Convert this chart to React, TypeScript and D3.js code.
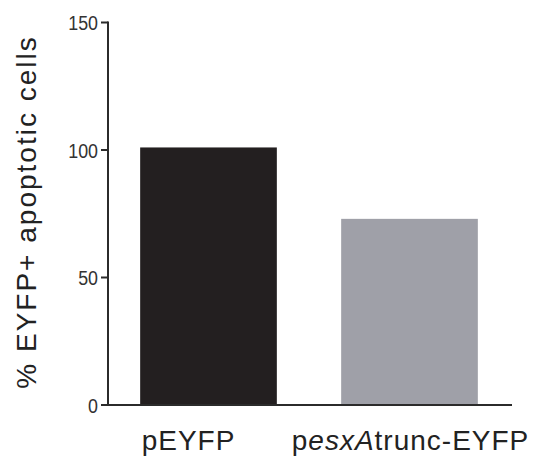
import React from 'react';
import * as d3 from 'd3';

const categories = ['pEYFP', 'pesxAtrunc-EYFP'];
const values = [101, 73];
const yTicks = [0, 50, 100, 150];
const barColors = ['#231f20', '#9fa0a8'];

const W = 543;
const H = 462;
const left = 108;
const bottom = 405;
const top = 22.5;

const App = () => {
  const x = d3.scaleBand<string>()
    .domain(categories)
    .range([left, 510])
    .paddingInner(0.32)
    .paddingOuter(0.16);
  const y = d3.scaleLinear().domain([0, 150]).range([bottom, top]);

  // label nudges so the text sits where the original did
  const labelDx = [-20, 1];

  return (
    <svg width={W} height={H} style={{ position: 'absolute', left: 0, top: 0, background: '#fff' }}>
      {categories.map((c, i) => (
        <rect key={c} x={x(c)} y={y(values[i])} width={x.bandwidth()}
          height={bottom - y(values[i])} fill={barColors[i]} />
      ))}

      {/* axes */}
      <line x1={left} x2={left} y1={top - 1} y2={bottom + 1} stroke="#2b2b2b" strokeWidth={2} />
      <line x1={left - 1} x2={512} y1={bottom} y2={bottom} stroke="#2b2b2b" strokeWidth={2} />
      {yTicks.map(t => (
        <g key={t}>
          <line x1={left - 7} x2={left} y1={y(t)} y2={y(t)} stroke="#2b2b2b" strokeWidth={2} />
          <text transform={`translate(${left - 10},${y(t)}) scale(0.85,1)`} dy="0.36em"
            textAnchor="end" fontFamily="Liberation Sans, Arial, sans-serif" fontSize={21}
            fill="#333">{t}</text>
        </g>
      ))}

      {/* category labels */}
      {categories.map((c, i) => (
        <text key={c} x={x(c)! + x.bandwidth() / 2 + labelDx[i]} y={450} textAnchor="middle"
          fontFamily="Liberation Sans, Arial, sans-serif" fontSize={28} letterSpacing={1}
          fill="#222">
          {c === 'pesxAtrunc-EYFP'
            ? (<><tspan>p</tspan><tspan fontStyle="italic">esxA</tspan><tspan>trunc-EYFP</tspan></>)
            : c}
        </text>
      ))}

      <text transform={`translate(36,212) rotate(-90)`} textAnchor="middle"
        fontFamily="Liberation Sans, Arial, sans-serif" fontSize={28} letterSpacing={2}
        fill="#222">% EYFP+ apoptotic cells</text>
    </svg>
  );
};

export default App;
